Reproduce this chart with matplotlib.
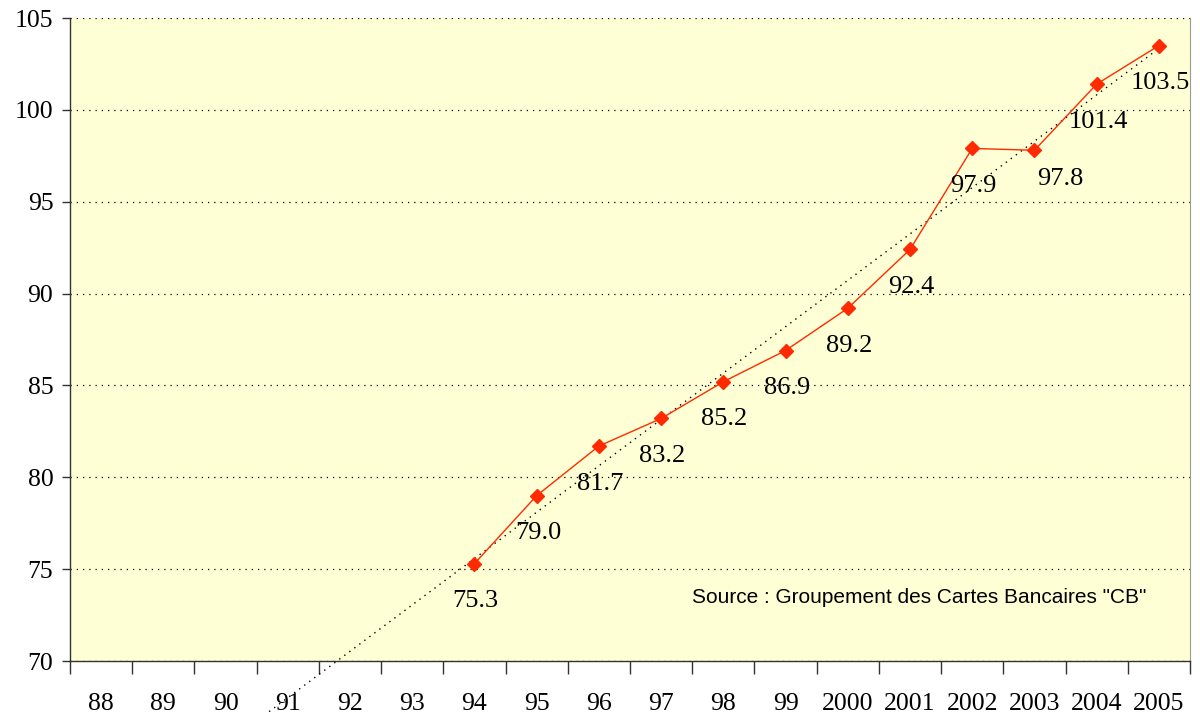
import matplotlib
matplotlib.use("Agg")
import matplotlib.pyplot as plt
import numpy as np

# Data
years = ['88', '89', '90', '91', '92', '93', '94', '95', '96', '97', '98', '99',
         '2000', '2001', '2002', '2003', '2004', '2005']
values = [None, None, None, None, None, None,
          75.3, 79.0, 81.7, 83.2, 85.2, 86.9, 89.2, 92.4, 97.9, 97.8, 101.4, 103.5]
yticks = [70, 75, 80, 85, 90, 95, 100, 105]

SERIF = ['Liberation Serif', 'DejaVu Serif']
BG = '#FFFFD6'
RED = '#FF2A00'

fig = plt.figure(figsize=(12, 7.16), dpi=100)
ax = fig.add_axes([70 / 1200, 55 / 716, 1120 / 1200, 643 / 716])
ax.set_facecolor(BG)

idx = np.array([i for i, v in enumerate(values) if v is not None], dtype=float)
vals = np.array([v for v in values if v is not None])

# linear trendline, extended backward below the axis
k, b = np.polyfit(idx, vals, 1)
tx = np.array([2.7, idx[-1]])
ax.plot(tx, k * tx + b, color='black', linestyle=(0, (1, 3.5)), linewidth=1.0,
        clip_on=False, zorder=2)

ax.plot(idx, vals, color=RED, linewidth=1.0, marker='D', markersize=7.5,
        markerfacecolor=RED, markeredgecolor=RED, zorder=3)

# value labels below points
shift = {15: (0.42, -21)}
for i, v in zip(idx, vals):
    ddx, ddy = shift.get(int(i), (0.02, -27))
    ax.annotate(f"{v:.1f}", (i + ddx, v), xytext=(0, ddy),
                textcoords='offset points', ha='center', va='center',
                fontsize=19, family=SERIF, zorder=4)

ax.text(0.555, 0.099, 'Source : Groupement des Cartes Bancaires "CB"',
        transform=ax.transAxes, fontsize=15, family=['Liberation Sans', 'DejaVu Sans'],
        ha='left', va='center')

ax.set_xlim(-0.5, len(years) - 0.5)
ax.set_ylim(70, 105)
ax.set_yticks(yticks)
ax.set_yticklabels([str(t) for t in yticks], family=SERIF, fontsize=18.5)
ax.yaxis.grid(True, color='black', linestyle=(0, (1, 4)), linewidth=0.9)
ax.set_axisbelow(True)

ax.set_xticks(np.arange(len(years) + 1) - 0.5)
ax.set_xticklabels([])
ax.set_xticks(np.arange(len(years)), minor=True)
ax.set_xticklabels(years, minor=True, family=SERIF, fontsize=18.5)
ax.tick_params(axis='x', which='major', direction='out', length=9, width=1, color='#333333')
ax.tick_params(axis='x', which='minor', length=0, pad=23)
ax.tick_params(axis='y', direction='out', length=6, width=1, color='#333333', pad=6)

for s in ['left', 'bottom']:
    ax.spines[s].set_color('#333333')
    ax.spines[s].set_linewidth(1.0)
ax.spines['right'].set_color('#999999')
ax.spines['top'].set_visible(False)

fig.savefig('out.png', dpi=100)
plt.close(fig)
